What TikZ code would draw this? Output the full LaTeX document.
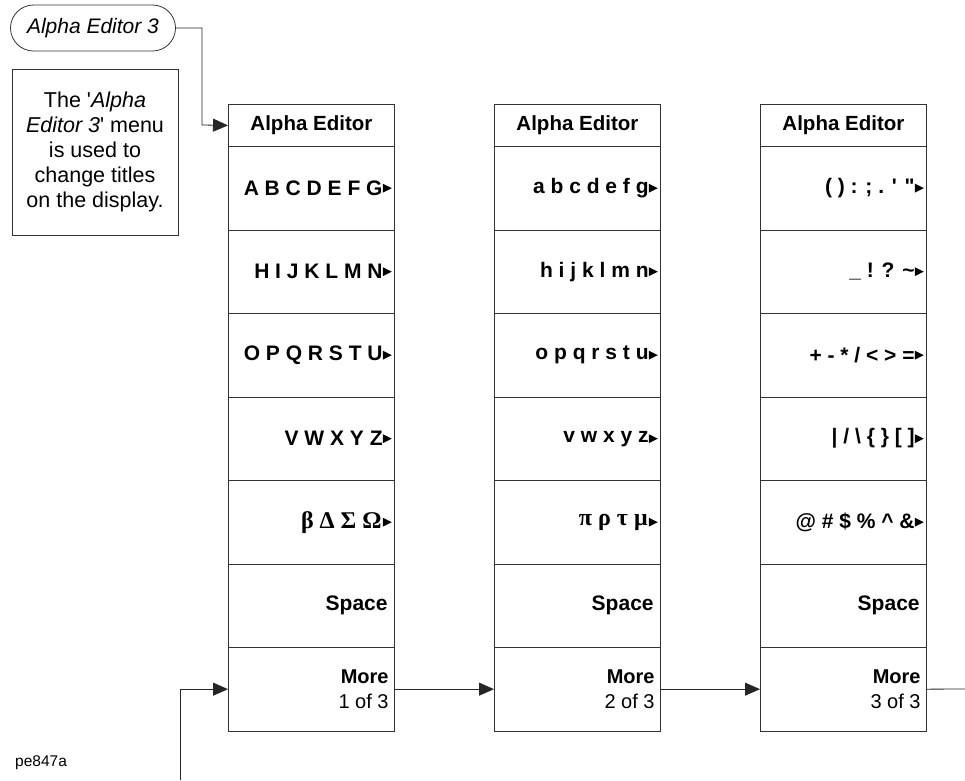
\documentclass[tikz,border=0pt]{standalone}
\usepackage{fontspec}
\setmainfont{Liberation Sans}
\newfontfamily\greekf{Liberation Serif}
\usetikzlibrary{arrows.meta,shapes.misc}
\newcommand\mk[1]{\fill[shift={(#1.east)}] (-12,-4.5) -- (-3,0) -- (-12,4.5) -- cycle;}
\begin{document}
\begin{tikzpicture}[x=1pt,y=-1pt,
  cell/.style={draw=black!80, line width=0.8pt, minimum width=166pt, minimum height=83.5pt, inner sep=0pt, anchor=north west},
  head/.style={cell, minimum height=42pt, font=\bfseries\fontsize{20.5}{24}\selectfont},
  lab/.style={anchor=east, font=\bfseries\fontsize{21}{24}\selectfont, inner sep=0pt},
  glab/.style={lab, font=\greekf\bfseries\fontsize{24}{26}\selectfont},
  conn/.style={draw=black!85, line width=0.8pt},
  tip/.style={-{Triangle[length=15pt,width=13pt]}}]
\useasboundingbox (0,0) rectangle (965,780);

\foreach \c/\x in {1/228,2/494,3/760}{
  \node[head] (c\c h) at (\x,104) {Alpha Editor};
  \foreach \r in {1,...,7}{\node[cell] (c\c r\r) at (\x,{146+(\r-1)*83.5}) {};}
}

% column 1
\node[lab] (l11) at ([xshift=-12pt]c1r1.east) {A B C D E F G}; \mk{c1r1}
\node[lab] (l12) at ([xshift=-12pt]c1r2.east) {H I J K L M N}; \mk{c1r2}
\node[lab] (l13) at ([xshift=-12pt]c1r3.east) {O P Q R S T U}; \mk{c1r3}
\node[lab] (l14) at ([xshift=-12pt]c1r4.east) {V W X Y Z}; \mk{c1r4}
\node[glab] (l15) at ([xshift=-13pt]c1r5.east) {β Δ Σ Ω}; \mk{c1r5}
\node[lab] (l16) at ([xshift=-7pt]c1r6.east) {Space};
\node[lab, align=right, font=\fontsize{20}{25}\selectfont] (l17) at ([xshift=-6pt]c1r7.east) {\textbf{More}\\1 of 3};

% column 2
\node[lab] (l21) at ([xshift=-12pt]c2r1.east) {a b c d e f g}; \mk{c2r1}
\node[lab] (l22) at ([xshift=-12pt]c2r2.east) {h i j k l m n}; \mk{c2r2}
\node[lab] (l23) at ([xshift=-12pt]c2r3.east) {o p q r s t u}; \mk{c2r3}
\node[lab] (l24) at ([xshift=-12pt]c2r4.east) {v w x y z}; \mk{c2r4}
\node[glab] (l25) at ([xshift=-13pt]c2r5.east) {π ρ τ μ}; \mk{c2r5}
\node[lab] (l26) at ([xshift=-7pt]c2r6.east) {Space};
\node[lab, align=right, font=\fontsize{20}{25}\selectfont] (l27) at ([xshift=-6pt]c2r7.east) {\textbf{More}\\2 of 3};

% column 3
\node[lab] (l31) at ([xshift=-12pt]c3r1.east) {( ) : ; . \textquotesingle{} \textquotedbl}; \mk{c3r1}
\node[lab] (l32) at ([xshift=-12pt]c3r2.east) {\_ ! ? \textasciitilde}; \mk{c3r2}
\node[lab] (l33) at ([xshift=-12pt]c3r3.east) {+ - * / < > =}; \mk{c3r3}
\node[lab] (l34) at ([xshift=-12pt]c3r4.east) {\textbar{} / \textbackslash{} \{ \} [ ]}; \mk{c3r4}
\node[lab] (l35) at ([xshift=-12pt]c3r5.east) {@ \# \$ \% \textasciicircum{} \&}; \mk{c3r5}
\node[lab] (l36) at ([xshift=-7pt]c3r6.east) {Space};
\node[lab, align=right, font=\fontsize{20}{25}\selectfont] (l37) at ([xshift=-6pt]c3r7.east) {\textbf{More}\\3 of 3};

% top left
\node[draw=black!80, line width=0.8pt, rounded rectangle, minimum width=165pt, minimum height=46pt, inner sep=0pt, font=\itshape\fontsize{21}{24}\selectfont] (ae3) at (93,28) {Alpha Editor 3};
\node[draw=black!80, line width=0.8pt, minimum width=166pt, minimum height=166pt, inner sep=0pt, align=center, font=\fontsize{21.5}{25}\selectfont] (desc) at (95,152)
  {The \textquotesingle\textit{Alpha}\\\textit{Editor 3}\textquotesingle{} menu\\is used to\\change titles\\on the display.};
\node[anchor=west, inner sep=0pt, font=\fontsize{15.5}{18}\selectfont] (fig) at (15,763) {pe847a};

% connectors
\draw[conn,tip] (ae3.east) -| (202,125) -- (c1h.west);
\coordinate (feed) at (180,780);
\coordinate (out) at (965,689);
\draw[conn,tip] (feed) |- (c1r7.west);
\draw[conn,tip] (c1r7.east) -- (c2r7.west);
\draw[conn,tip] (c2r7.east) -- (c3r7.west);
\draw[conn] (c3r7.east) -- (out);
\end{tikzpicture}
\end{document}
